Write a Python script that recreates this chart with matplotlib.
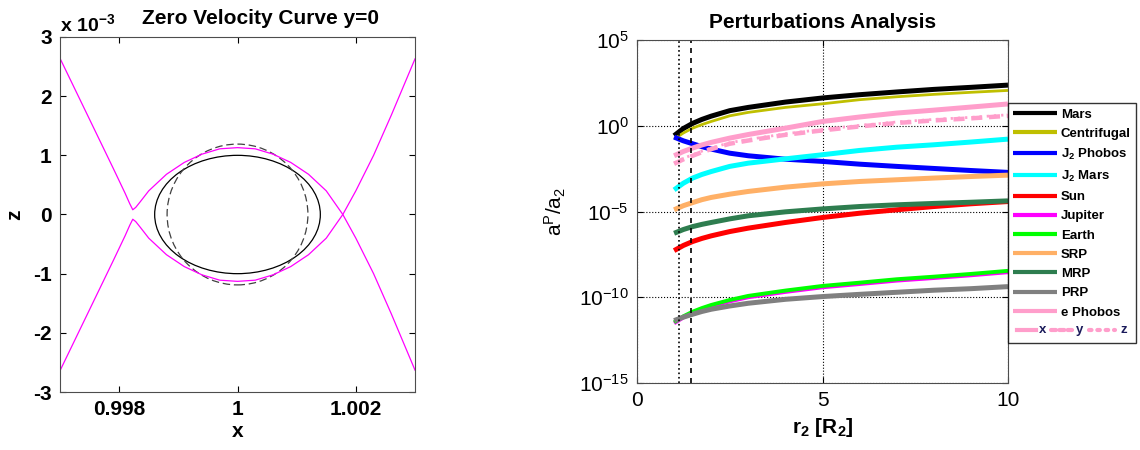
import numpy as np
import matplotlib
matplotlib.use('Agg')
import matplotlib.pyplot as plt
from matplotlib.patches import Ellipse
from matplotlib.lines import Line2D

plt.rcParams['font.family'] = ['Liberation Sans', 'DejaVu Sans']
plt.rcParams['mathtext.fontset'] = 'custom'
plt.rcParams['mathtext.rm'] = 'Liberation Sans'
plt.rcParams['mathtext.it'] = 'Liberation Sans:italic'
plt.rcParams['mathtext.bf'] = 'Liberation Sans:bold'

# ---- zero velocity curve (upper branch, z in units of 1e-3), mirrored below
zvc_x = [0.9970, 0.9973, 0.9976, 0.9979, 0.9981, 0.99818, 0.99823, 0.99828, 0.99836,
         0.9985, 0.9988, 0.9991, 0.9994, 0.9997, 1.0000, 1.0003, 1.0006, 1.0009,
         1.0012, 1.0015, 1.00178, 1.0020, 1.0023, 1.0026, 1.0030]
zvc_z = [2.64, 2.02, 1.40, 0.78, 0.36, 0.18, 0.08, 0.12, 0.22,
         0.40, 0.68, 0.88, 1.02, 1.11, 1.13, 1.11, 1.02, 0.88,
         0.68, 0.40, 0.00, -0.40, -1.00, -1.68, -2.63]

# body outlines: solid ellipse and dashed circle (centre x, semi-axis x, semi-axis z [1e-3])
body_cx = [1.0, 1.0]
body_ax = [1.40e-3, 1.19e-3]
body_az = [1.00, 1.19]

# ---- perturbations (log10 of a^P/a_2) vs r_2 [R_2]
r2 = [1, 1.25, 1.5, 1.75, 2, 2.5, 3, 4, 5, 6, 7, 8, 9, 10]
mars = [-0.58, -0.16, 0.14, 0.37, 0.56, 0.88, 1.07, 1.38, 1.62, 1.81, 1.97, 2.12, 2.24, 2.37]
centrifugal = [-0.78, -0.42, -0.14, 0.07, 0.25, 0.58, 0.78, 1.07, 1.28, 1.52, 1.69, 1.83, 1.95, 2.06]
j2_phobos = [-0.66, -0.88, -1.05, -1.22, -1.36, -1.60, -1.75, -1.95, -2.08, -2.24, -2.37, -2.49, -2.61, -2.72]
j2_mars = [-3.74, -3.35, -3.05, -2.84, -2.67, -2.37, -2.18, -1.93, -1.69, -1.44, -1.25, -1.11, -0.95, -0.78]
sun = [-7.28, -6.98, -6.75, -6.57, -6.42, -6.17, -5.97, -5.64, -5.35, -5.10, -4.90, -4.71, -4.55, -4.42]
jupiter = [-11.52, -11.18, -10.92, -10.71, -10.53, -10.24, -10.00, -9.69, -9.42, -9.23, -9.03, -8.88, -8.72, -8.54]
earth = [-11.46, -11.11, -10.84, -10.63, -10.45, -10.16, -9.92, -9.61, -9.34, -9.15, -8.95, -8.80, -8.64, -8.46]
srp = [-4.90, -4.66, -4.48, -4.31, -4.18, -3.99, -3.83, -3.58, -3.39, -3.25, -3.15, -3.05, -2.96, -2.88]
mrp = [-6.27, -6.05, -5.88, -5.75, -5.64, -5.43, -5.25, -5.02, -4.85, -4.71, -4.61, -4.53, -4.46, -4.38]
prp = [-11.36, -11.16, -10.99, -10.83, -10.70, -10.51, -10.35, -10.12, -9.96, -9.83, -9.71, -9.59, -9.50, -9.38]
e_phobos = [-1.75, -1.50, -1.30, -1.12, -0.97, -0.72, -0.51, -0.14, 0.25, 0.51, 0.74, 0.91, 1.09, 1.27]
e_phobos_y = [-2.22, -1.96, -1.75, -1.54, -1.36, -1.05, -0.86, -0.53, -0.27, -0.04, 0.16, 0.31, 0.43, 0.58]
e_phobos_z = [-2.16, -1.90, -1.69, -1.48, -1.30, -0.99, -0.80, -0.47, -0.21, 0.02, 0.22, 0.37, 0.49, 0.64]

series = [
    ('Mars', mars, 'k', 3.6),
    ('Centrifugal', centrifugal, '#BFBF00', 2.0),
    (r'J$_\mathbf{2}$ Phobos', j2_phobos, '#0000FF', 3.6),
    (r'J$_\mathbf{2}$ Mars', j2_mars, '#00FFFF', 3.6),
    ('Sun', sun, '#FF0000', 3.6),
    ('Jupiter', jupiter, '#FF00FF', 2.8),
    ('Earth', earth, '#00FF00', 2.8),
    ('SRP', srp, '#FFB066', 3.6),
    ('MRP', mrp, '#2E7D4F', 3.6),
    ('PRP', prp, '#808080', 3.6),
    ('e Phobos', e_phobos, '#FF9ECB', 3.6),
]
vlines = [1.14, 1.45]

W, H = 1140, 450
fig = plt.figure(figsize=(W / 100, H / 100), dpi=100)

# ---------------- left panel
ax1 = fig.add_axes([60 / W, 1 - 392 / H, 355 / W, 355 / H])
zx = np.array(zvc_x)
zz = np.array(zvc_z)
ax1.plot(zx, zz, color='#FF00FF', lw=0.9)
ax1.plot(zx, -zz, color='#FF00FF', lw=0.9)
ax1.add_patch(Ellipse((body_cx[0], 0), 2 * body_ax[0], 2 * body_az[0],
                      fill=False, ec='k', lw=0.9))
ax1.add_patch(Ellipse((body_cx[1], 0), 2 * body_ax[1], 2 * body_az[1],
                      fill=False, ec='0.25', lw=0.9, ls=(0, (6, 3))))
ax1.set_xlim(0.997, 1.003)
ax1.set_ylim(-3, 3)
ax1.set_xticks([0.998, 1.0, 1.002])
ax1.set_xticklabels(['0.998', '1', '1.002'])
ax1.set_yticks([-3, -2, -1, 0, 1, 2, 3])
ax1.set_yticklabels(['-3', '-2', '-1', '0', '1', '2', '3'])
ax1.tick_params(direction='in', top=True, right=True, length=4, width=0.8,
                labelsize=15, pad=6)
for lbl in ax1.get_xticklabels() + ax1.get_yticklabels():
    lbl.set_fontweight('bold')
for sp in ax1.spines.values():
    sp.set_color('0.3')
    sp.set_linewidth(0.8)
ax1.set_xlabel('x', fontsize=15, fontweight='bold', labelpad=2)
ax1.set_ylabel('z', fontsize=15, fontweight='bold', labelpad=6)
fig.text(260 / W, 1 - 19 / H, 'Zero Velocity Curve y=0', ha='center', va='center',
         fontsize=15, fontweight='bold')
fig.text(60 / W, 1 - 24 / H, r'x 10$^{\mathbf{-3}}$', ha='left', va='center',
         fontsize=14, fontweight='bold')

# ---------------- right panel
ax2 = fig.add_axes([637 / W, 1 - 383 / H, 371 / W, 343 / H])
ax2.set_yscale('log')
r = np.array(r2)
handles = []
for name, vals, col, lw in series:
    h, = ax2.plot(r, 10.0 ** np.array(vals), color=col, lw=lw, label=name,
                  solid_capstyle='butt')
    handles.append(h)
ax2.plot(r, 10.0 ** np.array(e_phobos_y), color='#FF9ECB', lw=3.2, ls=(0, (2.5, 1.5)))
ax2.plot(r, 10.0 ** np.array(e_phobos_z), color='#FF9ECB', lw=2.0, ls=(0, (0.8, 1.8)))
ax2.axvline(vlines[0], color='k', ls=':', lw=1.2)
ax2.axvline(vlines[1], color='k', ls='--', lw=1.2, dashes=(3, 3))
ax2.set_xlim(0, 10)
ax2.set_ylim(1e-15, 1e5)
ax2.set_xticks([0, 5, 10])
ax2.set_yticks([1e-15, 1e-10, 1e-5, 1e0, 1e5])
ax2.minorticks_off()
ax2.grid(True, ls=':', color='k', lw=0.8)
ax2.tick_params(direction='in', top=True, right=True, length=4, width=0.8,
                labelsize=15, pad=6)
for sp in ax2.spines.values():
    sp.set_color('0.3')
    sp.set_linewidth(0.8)
ax2.set_title('Perturbations Analysis', fontsize=15, fontweight='bold', pad=9)
ax2.set_xlabel(r'r$_\mathbf{2}$ [R$_\mathbf{2}$]', fontsize=15, fontweight='bold', labelpad=4)
ax2.set_ylabel(r'a$^\mathrm{P}$/a$_\mathrm{2}$', fontsize=15, labelpad=8)

blank = Line2D([], [], color='none')
leg = fig.legend(handles + [blank], [s[0] for s in series] + [' '],
                 loc='upper left', bbox_to_anchor=(1008 / W, 1 - 103 / H),
                 borderaxespad=0, frameon=True, fancybox=False, edgecolor='k',
                 prop={'size': 9.5, 'weight': 'bold'}, handlelength=3.3,
                 handletextpad=0.3, labelspacing=0.53, borderpad=0.4)
leg.get_frame().set_linewidth(1.0)
leg.set_zorder(5)
for lh in leg.get_lines()[:-1]:
    lh.set_linewidth(3.0)

# custom x / y / z row at the bottom of the legend box
yrow = 1 - 330 / H
fig.add_artist(Line2D([1017 / W, 1036 / W], [yrow, yrow], color='#FF9ECB', lw=3.0,
                      zorder=10))
fig.add_artist(Line2D([1051 / W, 1072 / W], [yrow, yrow], color='#FF9ECB', lw=3.0,
                      ls=(0, (1.2, 0.8)), dash_capstyle='round', zorder=10))
fig.add_artist(Line2D([1089 / W, 1115 / W], [yrow, yrow], color='#FF9ECB', lw=3.0,
                      ls=(0, (0.6, 1.4)), dash_capstyle='round', zorder=10))
for lx, t in [(1043, 'x'), (1080, 'y'), (1124, 'z')]:
    fig.text(lx / W, yrow, t, ha='center', va='center', fontsize=9.5,
             fontweight='bold', color='#1a1a5a', zorder=10)

fig.savefig('out.png', dpi=100)
